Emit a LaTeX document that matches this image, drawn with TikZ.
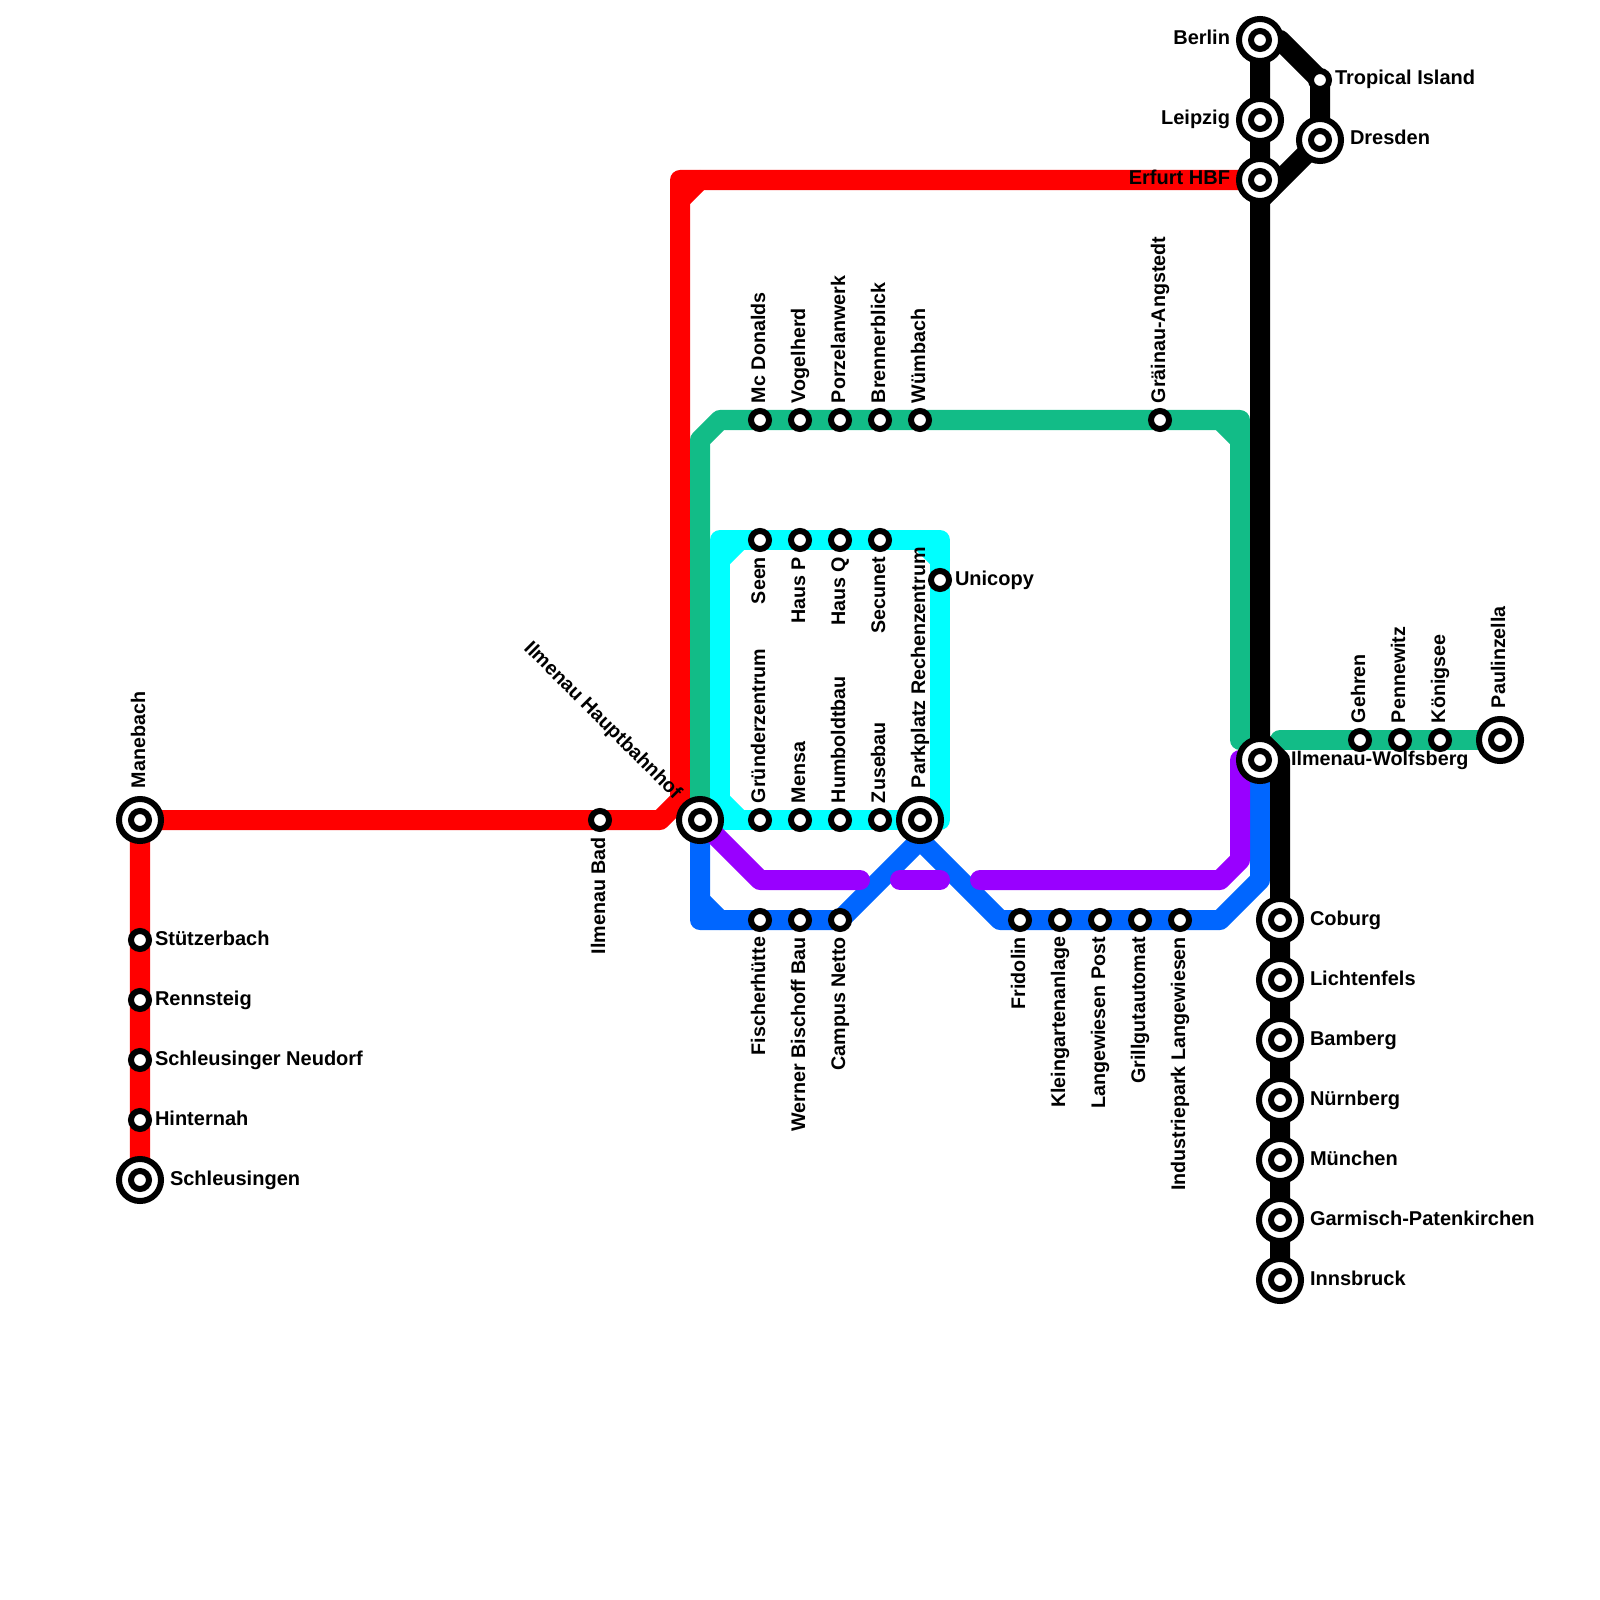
\documentclass[tikz,border=0pt]{standalone}
\usepackage{fontspec}
\setmainfont{Liberation Sans}
\usetikzlibrary{backgrounds}
\definecolor{lnred}{RGB}{255,0,0}
\definecolor{lngreen}{RGB}{18,188,135}
\definecolor{lncyan}{RGB}{0,255,255}
\definecolor{lnblue}{RGB}{0,102,255}
\definecolor{lnpurple}{RGB}{153,0,255}
\tikzset{
    stn/.style={circle,draw=black,fill=white,line width=.06cm,inner sep=0pt,outer sep=0pt,minimum size=.18cm},
    bigstn/.style={stn,minimum size=.42cm,path picture={\draw[line width=.06cm] (path picture bounding box.center) circle (.09cm);}},
    lbl/.style={font=\fontsize{5.69}{7}\selectfont\bfseries,inner sep=0pt,outer sep=0pt},
    lblrot/.style={lbl,font=\fontsize{5.6}{7}\selectfont\bfseries},
    lblup/.style={lblrot,rotate=90,anchor=base west},
    lbldn/.style={lblrot,rotate=90,anchor=base east},
    lblr/.style={lbl,anchor=base west},
    lbll/.style={lbl,anchor=base east},
    ln/.style={line width=.2cm,line cap=round,line join=round}
}
\begin{document}
\begin{tikzpicture}[x=.01cm,y=-.01cm]
    \useasboundingbox (0,0) rectangle (1600,1600);
    % stations along straight runs
    \foreach \y/\nm/\txt in {940/stue/Stützerbach,1000/ren/Rennsteig,1060/neu/Schleusinger Neudorf,1120/hin/Hinternah} {
        \node[stn] (\nm) at (140,\y) {};
        \node[lblr] (\nm-l) at (155,\y+5) {\txt};
    }
    \foreach \x/\nm/\txt in {760/mcd/Mc Donalds,800/vog/Vogelherd,840/por/Porzelanwerk,880/bre/Brennerblick,920/wue/Wümbach,1160/gra/Gräinau-Angstedt} {
        \node[stn] (\nm) at (\x,420) {};
        \node[lblup] (\nm-l) at (\x+5,403) {\txt};
    }
    \foreach \x/\nm/\txt in {760/see/Seen,800/hsp/Haus P,840/hsq/Haus Q,880/sec/Secunet} {
        \node[stn] (\nm) at (\x,540) {};
        \node[lbldn] (\nm-l) at (\x+5,557) {\txt};
    }
    \foreach \x/\nm/\txt in {760/gru/Gründerzentrum,800/men/Mensa,840/hum/Humboldtbau,880/zus/Zusebau} {
        \node[stn] (\nm) at (\x,820) {};
        \node[lblup] (\nm-l) at (\x+5,803) {\txt};
    }
    \foreach \x/\nm/\txt in {600/bad/Ilmenau Bad} {
        \node[stn] (\nm) at (\x,820) {};
        \node[lbldn] (\nm-l) at (\x+5,837) {\txt};
    }
    \foreach \x/\nm/\txt in {760/fis/Fischerhütte,800/wbb/Werner Bischoff Bau,840/net/Campus Netto,1020/fri/Fridolin,1060/kle/Kleingartenanlage,1100/lan/Langewiesen Post,1140/gri/Grillgutautomat,1180/ind/Industriepark Langewiesen} {
        \node[stn] (\nm) at (\x,920) {};
        \node[lbldn] (\nm-l) at (\x+5,937) {\txt};
    }
    \foreach \x/\nm/\txt in {1360/geh/Gehren,1400/pen/Pennewitz,1440/koe/Königsee} {
        \node[stn] (\nm) at (\x,740) {};
        \node[lblup] (\nm-l) at (\x+5,723) {\txt};
    }
    \foreach \y/\nm/\txt in {920/cob/Coburg,980/lic/Lichtenfels,1040/bam/Bamberg,1100/nue/Nürnberg,1160/mue/München,1220/gap/Garmisch-Patenkirchen,1280/inn/Innsbruck} {
        \node[bigstn] (\nm) at (1280,\y) {};
        \node[lblr] (\nm-l) at (1310,\y+5) {\txt};
    }
    \foreach \y/\nm/\txt in {40/ber/Berlin,120/lei/Leipzig,180/erf/Erfurt HBF} {
        \node[bigstn] (\nm) at (1260,\y) {};
        \node[lbll] (\nm-l) at (1230,\y+5) {\txt};
    }
    % single stations
    \node[bigstn] (man) at (140,820) {};
    \node[lblup] (man-l) at (145,788) {Manebach};
    \node[bigstn] (sch) at (140,1180) {};
    \node[lblr] (sch-l) at (170,1185) {Schleusingen};
    \node[bigstn] (hbf) at (700,820) {};
    \node[lblrot,rotate=-45,anchor=base east] (hbf-l) at (674,800) {Ilmenau Hauptbahnhof};
    \node[bigstn] (par) at (920,820) {};
    \node[lblup] (par-l) at (925,788) {Parkplatz Rechenzentrum};
    \node[stn] (uni) at (940,580) {};
    \node[lblr] (uni-l) at (955,585) {Unicopy};
    \node[bigstn] (wol) at (1260,760) {};
    \node[lblr,font=\fontsize{5.62}{7}\selectfont\bfseries] (wol-l) at (1291,765) {Ilmenau-Wolfsberg};
    \node[bigstn] (pau) at (1500,740) {};
    \node[lblup] (pau-l) at (1505,708) {Paulinzella};
    \node[stn] (tro) at (1320,80) {};
    \node[lblr] (tro-l) at (1335,85) {Tropical Island};
    \node[bigstn] (dre) at (1320,140) {};
    \node[lblr] (dre-l) at (1350,145) {Dresden};
    % bends
    \coordinate (rd1) at (660,820);
    \coordinate (rd2) at (680,800);
    \coordinate (rd3) at (680,200);
    \coordinate (rd4) at (680,180);
    \coordinate (rd5) at (700,180);
    \coordinate (gn1) at (700,440);
    \coordinate (gn2) at (720,420);
    \coordinate (gn3) at (1220,420);
    \coordinate (gn4) at (1240,420);
    \coordinate (gn5) at (1240,440);
    \coordinate (gn6) at (1240,740);
    \coordinate (gn7) at (1280,740);
    \coordinate (cy1) at (720,820);
    \coordinate (cy2) at (740,820);
    \coordinate (cy3) at (720,800);
    \coordinate (cy4) at (720,560);
    \coordinate (cy5) at (720,540);
    \coordinate (cy6) at (740,540);
    \coordinate (cy7) at (920,540);
    \coordinate (cy8) at (940,540);
    \coordinate (cy9) at (940,560);
    \coordinate (cy10) at (940,820);
    \coordinate (bl1) at (700,920);
    \coordinate (bl2) at (700,900);
    \coordinate (bl3) at (720,920);
    \coordinate (bl4) at (920,840);
    \coordinate (bl5) at (1000,920);
    \coordinate (bl6) at (1220,920);
    \coordinate (bl7) at (1260,880);
    \coordinate (pu1) at (760,880);
    \coordinate (pu2) at (860,880);
    \coordinate (pu3) at (900,880);
    \coordinate (pu4) at (940,880);
    \coordinate (pu5) at (980,880);
    \coordinate (pu6) at (1220,880);
    \coordinate (pu7) at (1240,860);
    \coordinate (pu8) at (1240,760);
    \coordinate (bk1) at (1260,740);
    \coordinate (bk2) at (1280,760);
    \coordinate (bk3) at (1280,40);
    \coordinate (bk4) at (1260,200);
    \begin{scope}[on background layer]
        \draw[ln,lnred] (sch.center) -- (man.center) -- (bad.center) -- (rd1) -- (rd2) -- (rd4) -- (erf.center);
        \draw[ln,lnred] (rd3) -- (rd5);
        \draw[ln,lngreen] (hbf.center) -- (gn1) -- (gn2) -- (gn4) -- (gn6);
        \draw[ln,lngreen] (gn3) -- (gn5);
        \draw[ln,lngreen] (gn7) -- (pau.center);
        \draw[ln,lncyan] (hbf.center) -- (cy1) -- (cy5) -- (cy8) -- (cy10) -- (par.center);
        \draw[ln,lncyan] (cy3) -- (cy2);
        \draw[ln,lncyan] (cy4) -- (cy6);
        \draw[ln,lncyan] (cy7) -- (cy9);
        \draw[ln,lncyan] (cy1) -- (par.center);
        \draw[ln,lnblue] (hbf.center) -- (bl1) -- (net.center) -- (bl4) -- (bl5) -- (bl6) -- (bl7) -- (wol.center);
        \draw[ln,lnblue] (bl2) -- (bl3);
        \draw[ln,lnpurple] (hbf.center) -- (pu1) -- (pu2);
        \draw[ln,lnpurple] (pu3) -- (pu4);
        \draw[ln,lnpurple] (pu5) -- (pu6) -- (pu7) -- (pu8);
        \draw[ln,black] (ber.center) -- (bk1) -- (bk2) -- (inn.center);
        \draw[ln,black] (ber.center) -- (bk3) -- (tro.center) -- (dre.center) -- (bk4);
    \end{scope}
\end{tikzpicture}
\end{document}
